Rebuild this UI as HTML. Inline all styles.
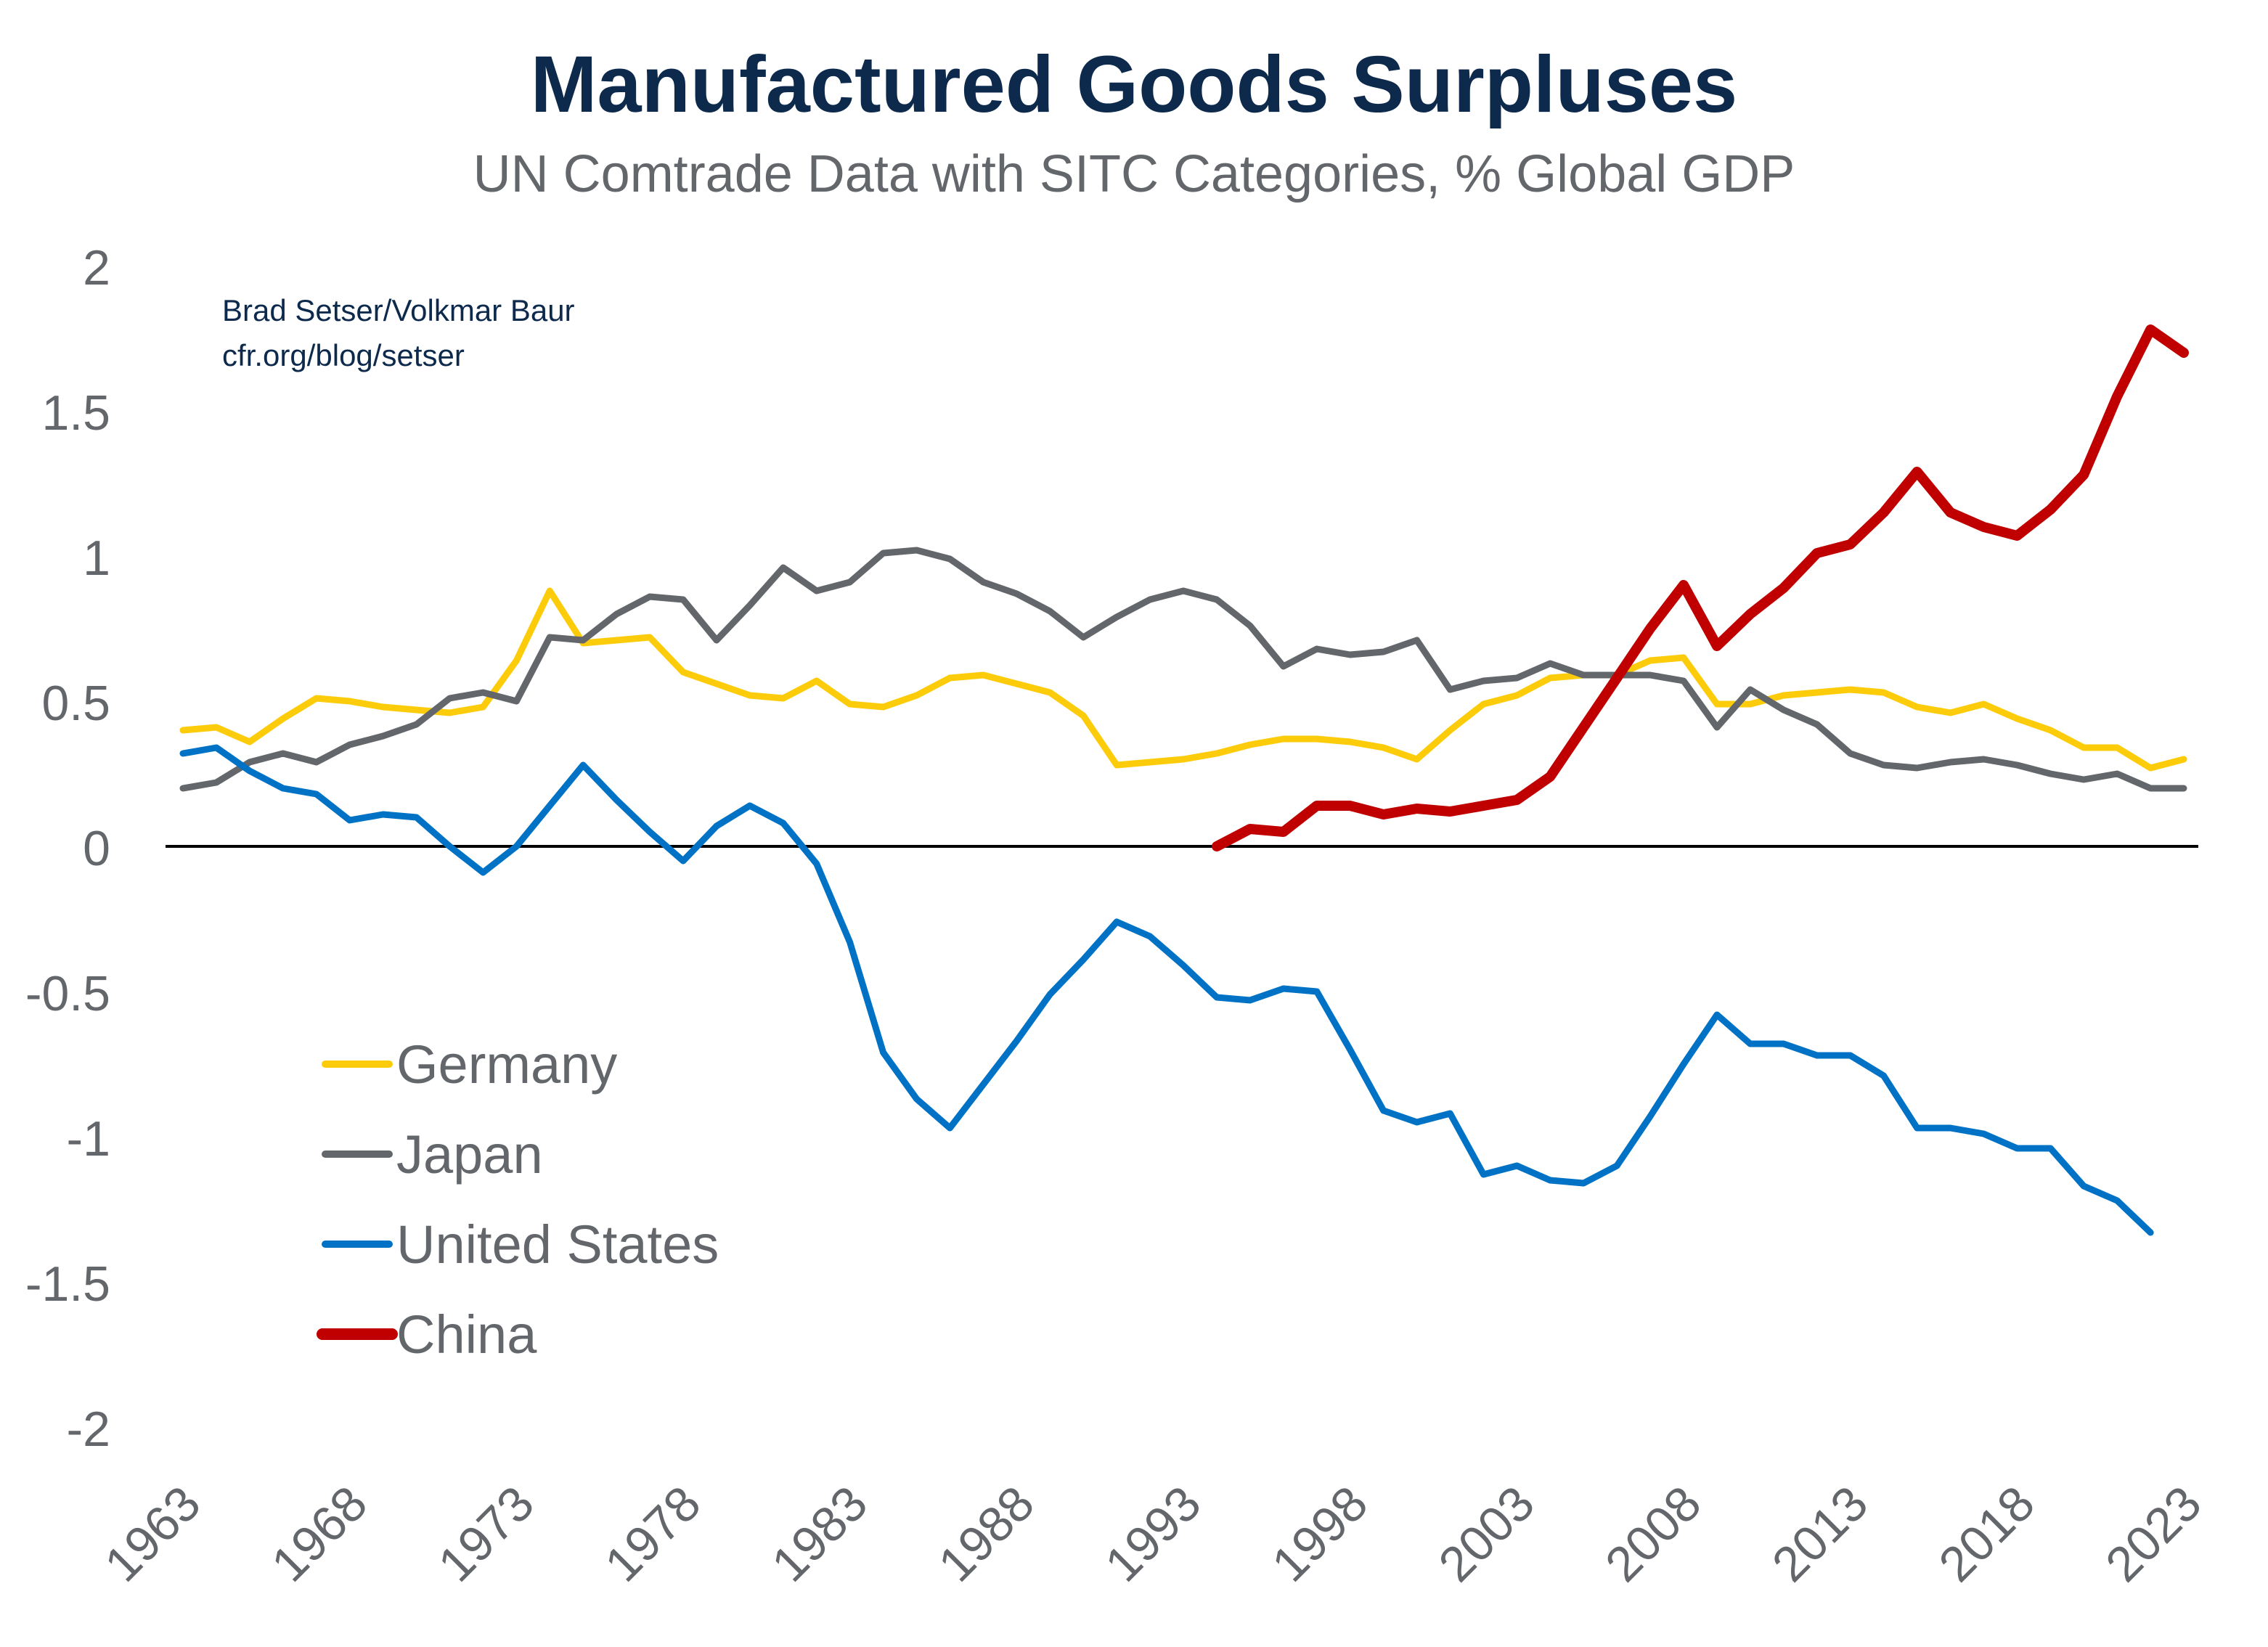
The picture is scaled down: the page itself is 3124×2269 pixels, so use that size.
<!DOCTYPE html>
<html><head><meta charset="utf-8"><style>
html,body{margin:0;padding:0;background:#fff}
svg{display:block}
text{font-family:"Liberation Sans",sans-serif}
</style></head><body>
<svg id="s" width="3124" height="2269" viewBox="0 0 1562 1134.5" xmlns="http://www.w3.org/2000/svg">
<rect width="1562" height="1134.5" fill="#fff"/>
<text x="781" y="77" text-anchor="middle" font-size="55" font-weight="bold" fill="#0d2a4c">Manufactured Goods Surpluses</text>
<text x="781" y="132" text-anchor="middle" font-size="36" fill="#63666a">UN Comtrade Data with SITC Categories, % Global GDP</text>
<text x="153" y="221" font-size="21" fill="#0d2a4c">Brad Setser/Volkmar Baur</text>
<text x="153" y="252" font-size="21" fill="#0d2a4c">cfr.org/blog/setser</text>
<g font-size="34" fill="#63666a" text-anchor="end">
<text x="76" y="196">2</text><text x="76" y="296">1.5</text><text x="76" y="396">1</text>
<text x="76" y="496">0.5</text><text x="76" y="596">0</text><text x="76" y="696">-0.5</text>
<text x="76" y="796">-1</text><text x="76" y="896">-1.5</text><text x="76" y="996">-2</text>
</g>
<line x1="114" y1="583" x2="1514" y2="583" stroke="#000" stroke-width="2"/>
<g id="xl" font-size="34" fill="#63666a" text-anchor="end"></g>
<g id="lines" fill="none" stroke-linejoin="round" stroke-linecap="round"></g>
<g stroke-linecap="round">
<line x1="224" y1="733" x2="268" y2="733" stroke="#fccc0a" stroke-width="5"/>
<line x1="224" y1="795" x2="268" y2="795" stroke="#63666a" stroke-width="5"/>
<line x1="224" y1="857" x2="268" y2="857" stroke="#0072c6" stroke-width="5"/>
<line x1="222" y1="919" x2="270" y2="919" stroke="#c00000" stroke-width="8"/>
</g>
<g font-size="37" fill="#63666a">
<text x="273" y="746">Germany</text><text x="273" y="808">Japan</text>
<text x="273" y="870">United States</text><text x="273" y="932">China</text>
</g>
</svg>
<script>
var X=function(y){return 126+(y-1963)*22.967},Y=function(v){return 583-v*200};
var NS="http://www.w3.org/2000/svg";
function line(start,d,col,w){var p=[];for(var i=0;i<d.length;i++)p.push(X(start+i).toFixed(1)+","+Y(d[i]).toFixed(1));
var e=document.createElementNS(NS,"polyline");e.setAttribute("points",p.join(" "));e.setAttribute("stroke",col);e.setAttribute("stroke-width",w);document.getElementById("lines").appendChild(e);}
line(1963,[0.40,0.41,0.36,0.44,0.51,0.50,0.48,0.47,0.46,0.48,0.64,0.88,0.70,0.71,0.72,0.60,0.56,0.52,0.51,0.57,0.49,0.48,0.52,0.58,0.59,0.56,0.53,0.45,0.28,0.29,0.30,0.32,0.35,0.37,0.37,0.36,0.34,0.30,0.40,0.49,0.52,0.58,0.59,0.59,0.64,0.65,0.49,0.49,0.52,0.53,0.54,0.53,0.48,0.46,0.49,0.44,0.40,0.34,0.34,0.27,0.30],"#fccc0a",4.5);
line(1963,[0.20,0.22,0.29,0.32,0.29,0.35,0.38,0.42,0.51,0.53,0.50,0.72,0.71,0.80,0.86,0.85,0.71,0.83,0.96,0.88,0.91,1.01,1.02,0.99,0.91,0.87,0.81,0.72,0.79,0.85,0.88,0.85,0.76,0.62,0.68,0.66,0.67,0.71,0.54,0.57,0.58,0.63,0.59,0.59,0.59,0.57,0.41,0.54,0.47,0.42,0.32,0.28,0.27,0.29,0.30,0.28,0.25,0.23,0.25,0.20,0.20],"#63666a",4.5);
line(1963,[0.32,0.34,0.26,0.20,0.18,0.09,0.11,0.10,0.00,-0.09,0.00,0.14,0.28,0.16,0.05,-0.05,0.07,0.14,0.08,-0.06,-0.33,-0.71,-0.87,-0.97,-0.82,-0.67,-0.51,-0.39,-0.26,-0.31,-0.41,-0.52,-0.53,-0.49,-0.50,-0.70,-0.91,-0.95,-0.92,-1.13,-1.10,-1.15,-1.16,-1.10,-0.93,-0.75,-0.58,-0.68,-0.68,-0.72,-0.72,-0.79,-0.97,-0.97,-0.99,-1.04,-1.04,-1.17,-1.22,-1.33],"#0072c6",4.5);
line(1994,[0.00,0.06,0.05,0.14,0.14,0.11,0.13,0.12,0.14,0.16,0.24,0.41,0.58,0.75,0.90,0.69,0.80,0.89,1.01,1.04,1.15,1.29,1.15,1.10,1.07,1.16,1.28,1.55,1.78,1.70],"#c00000",7);
var g=document.getElementById("xl");
for(var y=1963;y<=2023;y+=5){var t=document.createElementNS(NS,"text");var x=X(y)+14,yy=1038;
t.setAttribute("transform","translate("+x+","+yy+") rotate(-45)");t.textContent=y;g.appendChild(t);}
</script>
</body></html>
